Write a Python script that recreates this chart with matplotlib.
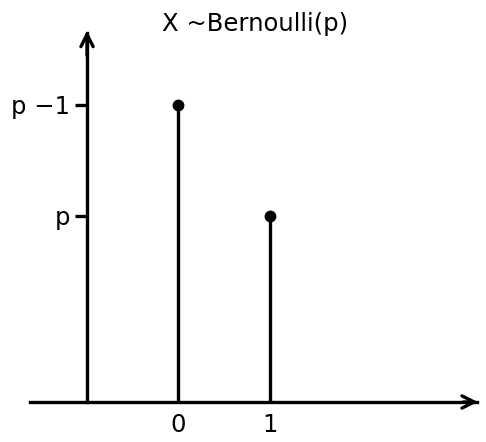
import matplotlib.pyplot as plt

# values of the pmf
outcomes = [0, 1]
probs = [0.6, 0.376]
xtick_labels = ['0', '1']
ytick_labels = ['p \u22121', 'p']
title = 'X ~Bernoulli(p)'

fig = plt.figure(figsize=(4.86, 4.42), dpi=100)
ax = fig.add_axes([0, 0, 1, 1])

# pixel-like layout: x=0 -> 178px, 92px per unit; y=0 -> 402px, 495px per unit
ax.set_xlim(-1.935, 3.348)
ax.set_ylim(-0.0808, 0.812)

lw = 2.4
ax.vlines(outcomes, 0, probs, color='black', lw=lw)
ax.plot(outcomes, probs, 'o', color='black', ms=7.5)

for side in ['top', 'right']:
    ax.spines[side].set_visible(False)
ax.spines['left'].set_position(('data', -0.989))
ax.spines['bottom'].set_position(('data', 0))
ax.spines['left'].set_bounds(0, 0.745)
ax.spines['bottom'].set_bounds(-1.61, 3.25)
ax.spines['left'].set_linewidth(lw)
ax.spines['bottom'].set_linewidth(lw)
ax.patch.set_visible(False)

# arrow heads
ax.annotate('', xy=(-0.989, 0.75), xytext=(-0.989, 0.70),
            arrowprops=dict(arrowstyle='->', lw=lw, color='black',
                            mutation_scale=22, shrinkA=0, shrinkB=0))
ax.annotate('', xy=(3.26, 0), xytext=(3.1, 0),
            arrowprops=dict(arrowstyle='->', lw=lw, color='black',
                            mutation_scale=22, shrinkA=0, shrinkB=0))

ax.set_xticks(outcomes)
ax.set_xticklabels(xtick_labels, fontsize=17.5)
ax.tick_params(axis='x', length=0, pad=8)
ax.set_yticks(probs)
ax.set_yticklabels(ytick_labels, fontsize=17.5)
ax.tick_params(axis='y', length=9, width=lw, pad=3)

fig.text(255 / 486, 1 - 24 / 442, title, fontsize=17.5, ha='center', va='center')

fig.savefig('out.png', dpi=100)
